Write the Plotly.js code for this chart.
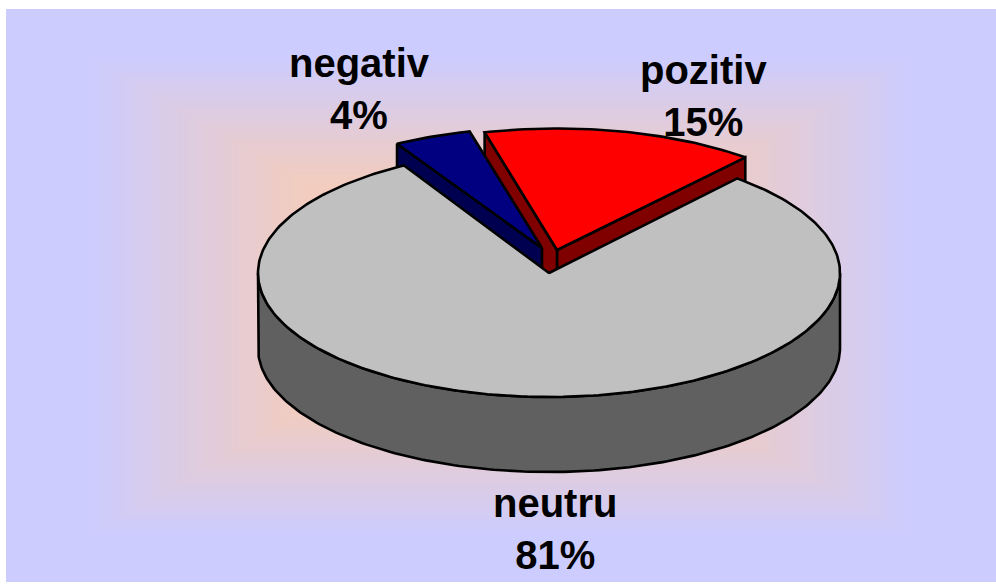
<!DOCTYPE html>
<html>
<head>
<meta charset="utf-8">
<script src="https://cdn.plot.ly/plotly-3.0.1.min.js"></script>
<style>html,body{margin:0;padding:0;background:#fff}</style>
</head>
<body>
<div id="chart" style="width:996px;height:586px"></div>
<script>
// Data, clockwise from the start angle
var categories = ["pozitiv", "neutru", "negativ"];
var values = [15.2, 80.5, 4.3];
var percentLabels = ["15%", "81%", "4%"];

// Styles
var topColors = ["#FF0000", "#C0C0C0", "#000080"];
var wallColors = ["#800000", "#606060", "#000050"];
var labelX = [703, 555, 359];
var labelY = [96, 529, 89];
var offsetX = [8, 0, -7];
var offsetY = [-23, 0, -25];
var radiusYScale = [0.98, 1, 0.97];

var CX = 549, CY = 273, RX = 291, RY = 124, DEPTH = 75, START = -14.4;
var LINE = {color: "#000000", width: 2.6};

var total = values.reduce(function (a, b) { return a + b; }, 0);
var slices = [], cursor = START;
values.forEach(function (v, i) {
  var sweep = v / total * 360;
  slices.push({a0: cursor, a1: cursor + sweep, dx: offsetX[i], dy: offsetY[i], ry: RY * radiusYScale[i]});
  cursor += sweep;
});

function pt(s, deg, drop) {
  var r = deg * Math.PI / 180;
  return [CX + s.dx + RX * Math.sin(r), CY + s.dy - s.ry * Math.cos(r) + (drop || 0)];
}
function poly(points, color, name) {
  return {
    type: "scatter", mode: "lines", fill: "toself", fillcolor: color, name: name,
    x: points.map(function (p) { return p[0]; }),
    y: points.map(function (p) { return p[1]; }),
    line: LINE, hoverinfo: "name", showlegend: false
  };
}
function arc(s, from, to, drop) {
  var pts = [], n = Math.max(2, Math.ceil(Math.abs(to - from)));
  for (var k = 0; k <= n; k++) pts.push(pt(s, from + (to - from) * k / n, drop));
  return pts;
}
function apex(s, drop) { return [CX + s.dx, CY + s.dy + (drop || 0)]; }
function topFace(i) {
  var s = slices[i];
  var pts = [apex(s)].concat(arc(s, s.a0, s.a1));
  pts.push(apex(s));
  return poly(pts, topColors[i], categories[i]);
}
function radialWall(i, deg) {
  var s = slices[i], o = pt(s, deg);
  return poly([apex(s), o, [o[0], o[1] + DEPTH], apex(s, DEPTH), apex(s)], wallColors[i], categories[i]);
}
function rimWall(i) {
  var s = slices[i];
  var upper = arc(s, 90, 270), lower = arc(s, 270, 90, DEPTH);
  var pts = upper.concat(lower); pts.push(upper[0]);
  return poly(pts, wallColors[i], categories[i]);
}

var traces = [
  radialWall(0, slices[0].a1), radialWall(0, slices[0].a0), topFace(0),
  radialWall(2, slices[2].a0), topFace(2),
  rimWall(1), topFace(1)
];

// Rectangular centre-out background gradient, as nested bands
var shapes = [{type: "rect", xref: "x", yref: "y", x0: 6, x1: 996, y0: 9, y1: 582,
               fillcolor: "#CCCCFF", line: {width: 0}, layer: "below"}];
var BX = 501, BY = 296, HW = 495, HH = 287, T0 = 0.84, T1 = 0.40, BANDS = 70;
for (var b = 1; b <= BANDS; b++) {
  var f = b / BANDS, t = T0 + (T1 - T0) * f;
  var col = "rgb(" + Math.round(204 + 38 * f) + ",204," + Math.round(255 - 65 * f) + ")";
  shapes.push({type: "rect", xref: "x", yref: "y",
    x0: BX - HW * t, x1: BX + HW * t, y0: BY - HH * t, y1: BY + HH * t,
    fillcolor: col, line: {width: 0}, layer: "below"});
}

var annotations = categories.map(function (c, i) {
  return {
    x: labelX[i], y: labelY[i], xref: "x", yref: "y",
    text: "<b>" + c + "</b><br><b>" + percentLabels[i] + "</b>", showarrow: false,
    xanchor: "center", yanchor: "middle", align: "center",
    font: {family: "Liberation Sans, Arial, sans-serif", size: 40, color: "#000000"}
  };
});

Plotly.newPlot("chart", traces, {
  width: 996, height: 586,
  margin: {l: 0, r: 0, t: 0, b: 0, pad: 0},
  paper_bgcolor: "#FFFFFF", plot_bgcolor: "rgba(0,0,0,0)",
  xaxis: {range: [0, 996], visible: false, fixedrange: true},
  yaxis: {range: [586, 0], visible: false, fixedrange: true},
  shapes: shapes, annotations: annotations, showlegend: false, hovermode: "closest"
}, {displayModeBar: false});
</script>
</body>
</html>
